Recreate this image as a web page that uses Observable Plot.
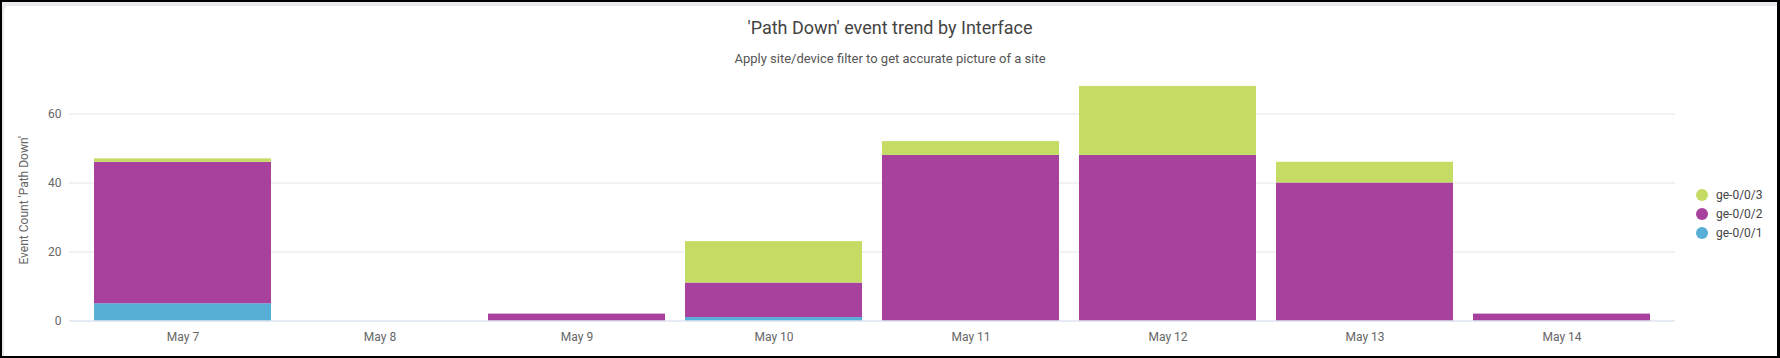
<!DOCTYPE html>
<html>
<head>
<meta charset="utf-8">
<script src="https://cdn.jsdelivr.net/npm/d3@7"></script>
<script src="https://cdn.jsdelivr.net/npm/@observablehq/plot@0.6"></script>
<style>
  html, body { margin: 0; padding: 0; background: #fff; }
  body { width: 1780px; height: 358px; position: relative; overflow: hidden; font-family: Roboto, "Noto Sans", sans-serif; }
  .frame { position: absolute; left: 0; top: 0; width: 1780px; height: 358px; box-sizing: border-box; border: 2px solid #000; border-right-width: 3px; background: #e8eaed; }
  .inner { position: absolute; left: 2px; top: 4px; right: 0; bottom: 0; background: #fff; border-top-left-radius: 5px; }
  #chart { position: absolute; left: 0; top: 0; }
  .title { position: absolute; left: 0; width: 1780px; text-align: center; top: 17px; font-size: 18px; color: #444; }
  .subtitle { position: absolute; left: 0; width: 1780px; text-align: center; top: 51px; font-size: 13px; color: #555; }
  .legend { position: absolute; left: 1696px; top: 186px; font-size: 12px; color: #444; }
  .legend .row { display: flex; align-items: center; height: 18.7px; }
  .legend .dot { width: 12px; height: 12px; border-radius: 50%; margin-right: 8px; }
</style>
</head>
<body>
<div class="frame"><div class="inner"></div></div>
<div id="chart"></div>
<div class="title">'Path Down' event trend by Interface</div>
<div class="subtitle">Apply site/device filter to get accurate picture of a site</div>
<div class="legend" id="legend"></div>
<script>
const dates = ["May 7", "May 8", "May 9", "May 10", "May 11", "May 12", "May 13", "May 14"];
const ge001 = [5, 0, 0, 1, 0, 0, 0, 0];
const ge002 = [41, 0, 2, 10, 48, 48, 40, 2];
const ge003 = [1, 0, 0, 12, 4, 20, 6, 0];
const seriesNames = ["ge-0/0/1", "ge-0/0/2", "ge-0/0/3"];
const seriesColors = ["#57afd7", "#a8419d", "#c4dc64"];
const legendOrder = ["ge-0/0/3", "ge-0/0/2", "ge-0/0/1"];
const yTicks = [0, 20, 40, 60];

const seriesValues = [ge001, ge002, ge003];
const rows = [];
seriesNames.forEach((name, si) => {
  dates.forEach((d, i) => rows.push({date: d, series: name, value: seriesValues[si][i]}));
});

const chart = Plot.plot({
  width: 1780,
  height: 358,
  marginLeft: 69,
  marginRight: 105,
  marginTop: 79,
  marginBottom: 37.5,
  style: {background: "transparent", fontFamily: "Roboto, sans-serif", fontSize: "12px", color: "#666"},
  x: {type: "band", domain: dates, paddingInner: 0.1, paddingOuter: 0.12, label: null},
  y: {domain: [0, 70], label: null},
  color: {domain: seriesNames, range: seriesColors},
  marks: [
    Plot.gridY(yTicks.filter(t => t > 0), {stroke: "#e6e6e6", strokeOpacity: 1}),
    Plot.barY(rows, {x: "date", y: "value", fill: "series"}),
    Plot.ruleY([0], {stroke: "#ccd6eb", strokeWidth: 1}),
    Plot.axisY({ticks: yTicks, tickSize: 0, tickPadding: 8, label: "Event Count 'Path Down'", labelAnchor: "center", labelArrow: "none", labelOffset: 50, fill: "#666", fontSize: 12}),
    Plot.axisX({tickSize: 0, tickPadding: 11, label: null, fill: "#666", fontSize: 12})
  ]
});
document.getElementById("chart").appendChild(chart);

const legend = document.getElementById("legend");
legendOrder.forEach(name => {
  const row = document.createElement("div");
  row.className = "row";
  const dot = document.createElement("div");
  dot.className = "dot";
  dot.style.background = seriesColors[seriesNames.indexOf(name)];
  const label = document.createElement("span");
  label.textContent = name;
  row.appendChild(dot);
  row.appendChild(label);
  legend.appendChild(row);
});
</script>
</body>
</html>
